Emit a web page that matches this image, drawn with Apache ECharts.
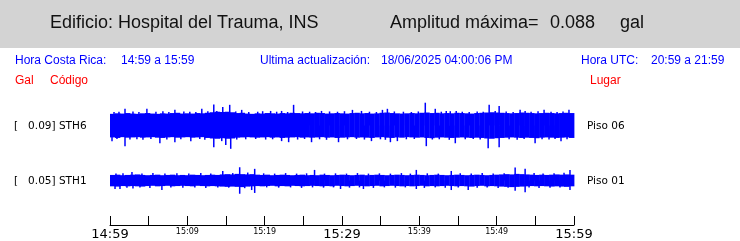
<!DOCTYPE html>
<html><head><meta charset="utf-8">
<script src="https://cdn.jsdelivr.net/npm/echarts@6/dist/echarts.min.js"></script>
<style>html,body{margin:0;padding:0;background:#fff}#c{width:740px;height:241px}</style>
</head><body><div id="c"></div>
<script>
// ---------- texts ----------
const buildingName = 'Edificio: Hospital del Trauma, INS';
const maxAmplitude = 0.088;
const ampUnit = 'gal';
const horaCR = '14:59 a 15:59';
const lastUpdate = '18/06/2025 04:00:06 PM';
const horaUTC = '20:59 a 21:59';
const channels = ['STH6', 'STH1'];
const channelMax = [0.09, 0.05];
const places = ['Piso 06', 'Piso 01'];
const tickLabels = ['14:59', '15:09', '15:19', '15:29', '15:39', '15:49', '15:59'];

// ---------- waveform envelopes (gal), one column per 60/93 min ----------
const sth6Hi = [0.044,0.046,0.045,0.047,0.045,0.044,0.046,0.047,0.045,0.044,
0.046,0.045,0.047,0.048,0.045,0.046,0.045,0.047,0.046,0.048,
0.050,0.052,0.051,0.052,0.050,0.047,0.048,0.045,0.044,0.046,
0.045,0.047,0.046,0.045,0.047,0.046,0.048,0.047,0.046,0.047,
0.046,0.048,0.047,0.045,0.046,0.047,0.046,0.045,0.047,0.048,
0.046,0.047,0.045,0.046,0.048,0.049,0.047,0.046,0.045,0.046,
0.047,0.046,0.048,0.049,0.047,0.048,0.046,0.047,0.046,0.048,
0.047,0.046,0.045,0.047,0.048,0.049,0.050,0.049,0.048,0.047,
0.046,0.047,0.049,0.048,0.047,0.046,0.047,0.048,0.047,0.046,
0.047,0.048,0.047];
const sth6Lo = [-0.045,-0.047,-0.044,-0.046,-0.045,-0.044,-0.046,-0.045,-0.044,-0.046,
-0.047,-0.045,-0.044,-0.046,-0.045,-0.044,-0.046,-0.045,-0.044,-0.047,
-0.049,-0.050,-0.048,-0.050,-0.049,-0.046,-0.045,-0.044,-0.045,-0.046,
-0.045,-0.044,-0.046,-0.045,-0.047,-0.046,-0.045,-0.044,-0.046,-0.045,
-0.046,-0.045,-0.044,-0.046,-0.045,-0.047,-0.046,-0.045,-0.044,-0.046,
-0.045,-0.046,-0.047,-0.045,-0.044,-0.046,-0.047,-0.045,-0.046,-0.044,
-0.045,-0.046,-0.045,-0.047,-0.048,-0.046,-0.045,-0.046,-0.047,-0.046,
-0.045,-0.046,-0.047,-0.046,-0.047,-0.049,-0.050,-0.048,-0.047,-0.046,
-0.045,-0.046,-0.047,-0.046,-0.047,-0.048,-0.046,-0.045,-0.046,-0.047,
-0.046,-0.045,-0.047];
const sth1Hi = [0.021,0.022,0.020,0.021,0.022,0.023,0.021,0.020,0.021,0.022,
0.020,0.021,0.022,0.020,0.021,0.020,0.022,0.021,0.020,0.021,
0.022,0.021,0.023,0.024,0.023,0.025,0.024,0.023,0.024,0.022,
0.021,0.022,0.020,0.021,0.022,0.021,0.020,0.021,0.022,0.020,
0.021,0.020,0.022,0.021,0.020,0.021,0.022,0.021,0.020,0.021,
0.022,0.020,0.021,0.022,0.021,0.020,0.021,0.022,0.021,0.020,
0.021,0.022,0.021,0.020,0.021,0.022,0.021,0.020,0.021,0.022,
0.021,0.020,0.021,0.022,0.021,0.020,0.021,0.022,0.023,0.024,
0.023,0.025,0.024,0.023,0.022,0.021,0.022,0.021,0.022,0.023,
0.022,0.023,0.022];
const sth1Lo = [-0.022,-0.023,-0.021,-0.022,-0.021,-0.022,-0.023,-0.021,-0.020,-0.022,
-0.021,-0.020,-0.022,-0.021,-0.020,-0.021,-0.022,-0.020,-0.021,-0.022,
-0.021,-0.022,-0.023,-0.024,-0.023,-0.024,-0.025,-0.023,-0.022,-0.021,
-0.022,-0.021,-0.020,-0.022,-0.021,-0.022,-0.020,-0.021,-0.022,-0.021,
-0.020,-0.021,-0.022,-0.021,-0.022,-0.020,-0.021,-0.022,-0.021,-0.020,
-0.021,-0.022,-0.021,-0.020,-0.022,-0.021,-0.020,-0.021,-0.022,-0.021,
-0.022,-0.021,-0.020,-0.022,-0.021,-0.022,-0.021,-0.020,-0.021,-0.022,
-0.021,-0.022,-0.023,-0.021,-0.020,-0.022,-0.021,-0.022,-0.023,-0.024,
-0.025,-0.024,-0.023,-0.022,-0.021,-0.022,-0.021,-0.022,-0.023,-0.022,
-0.023,-0.024,-0.022];

// ---------- peaks [minute, gal] ----------
const sth6Peaks = [[1.94,0.063],[4.77,0.063],[8.39,0.059],[11.87,0.063],[13.42,0.079],[13.81,0.055],
[14.58,0.070],[15.48,0.078],[17.03,0.059],[20.77,0.055],[22.19,0.055],[23.74,0.078],[27.35,0.055],
[31.35,0.059],[32.52,0.055],[35.23,0.059],[35.87,0.063],[40.77,0.086],[42.06,0.063],[43.48,0.055],
[44.77,0.055],[49.03,0.078],[49.81,0.055],[50.32,0.074],[53.03,0.059],[53.68,0.055],[56.13,0.059],[59.35,0.059],
[0.52,0.051],[1.16,0.052],[2.97,0.053],[3.74,0.051],[5.94,0.052],[6.84,0.054],[7.61,0.051],[9.55,0.053],
[10.32,0.052],[11.10,0.051],[12.65,0.054],[16.26,0.053],[17.94,0.051],[19.10,0.052],[19.74,0.054],
[21.55,0.052],[22.97,0.051],[24.90,0.053],[25.81,0.052],[26.58,0.051],[28.39,0.053],[29.42,0.052],
[30.32,0.054],[33.55,0.052],[34.45,0.051],[36.77,0.053],[37.94,0.052],[38.97,0.051],[39.87,0.053],
[42.84,0.052],[44.00,0.054],[45.55,0.052],[46.45,0.051],[47.48,0.053],[48.26,0.052],[51.23,0.053],
[52.13,0.051],[54.45,0.052],[55.35,0.054],[57.03,0.052],[57.81,0.051],[58.58,0.053],
[0.26,-0.059],[1.94,-0.078],[6.45,-0.067],[8.39,-0.063],[10.45,-0.059],[13.42,-0.082],[14.45,-0.059],
[14.97,-0.074],[15.61,-0.088],[22.19,-0.059],[23.10,-0.063],[26.06,-0.063],[29.55,-0.063],[33.81,-0.059],
[36.26,-0.063],[37.16,-0.059],[40.90,-0.078],[44.65,-0.067],[48.90,-0.086],[50.32,-0.082],[54.97,-0.067],[58.32,-0.059],
[0.90,-0.051],[2.58,-0.053],[3.48,-0.052],[4.26,-0.054],[5.29,-0.051],[7.35,-0.053],[9.16,-0.052],
[11.61,-0.051],[12.26,-0.054],[16.39,-0.053],[17.55,-0.052],[18.84,-0.051],[20.13,-0.053],[21.03,-0.052],
[24.26,-0.053],[25.16,-0.051],[27.10,-0.052],[28.00,-0.054],[30.71,-0.052],[31.87,-0.051],[32.90,-0.053],
[34.97,-0.052],[35.61,-0.054],[38.32,-0.052],[39.35,-0.051],[41.68,-0.053],[42.58,-0.052],[43.87,-0.054],
[45.94,-0.052],[46.97,-0.051],[47.87,-0.053],[51.61,-0.052],[52.65,-0.054],[53.55,-0.051],[55.87,-0.052],
[56.77,-0.053],[57.55,-0.051],[59.10,-0.052]];
const sth1Peaks = [[2.84,0.032],[14.58,0.036],[16.77,0.050],[18.71,0.044],[26.45,0.040],[39.61,0.040],
[44.13,0.036],[52.39,0.049],[53.68,0.044],[59.48,0.040],
[0.77,0.026],[1.68,0.027],[4.13,0.026],[5.55,0.028],[7.10,0.026],[8.65,0.027],[10.19,0.026],[11.74,0.028],
[13.03,0.026],[15.87,0.028],[17.81,0.030],[19.87,0.027],[21.29,0.026],[22.71,0.028],[24.13,0.026],
[25.42,0.027],[27.74,0.026],[29.16,0.027],[30.58,0.026],[32.00,0.028],[33.42,0.026],[34.84,0.027],
[36.26,0.026],[37.68,0.028],[38.84,0.026],[41.03,0.027],[42.45,0.026],[45.29,0.027],[46.71,0.026],
[48.13,0.028],[49.55,0.026],[50.97,0.027],[54.84,0.028],[56.00,0.026],[57.42,0.027],[58.71,0.029],
[0.65,-0.032],[1.29,-0.032],[2.97,-0.030],[6.71,-0.036],[16.77,-0.050],[18.32,-0.036],[18.71,-0.047],
[29.81,-0.032],[32.77,-0.032],[39.61,-0.032],[44.13,-0.036],[46.32,-0.036],[52.39,-0.039],[53.68,-0.044],[59.48,-0.036],
[2.19,-0.027],[3.87,-0.026],[5.16,-0.028],[7.87,-0.026],[9.42,-0.027],[10.97,-0.026],[12.39,-0.028],
[13.94,-0.026],[15.35,-0.027],[17.42,-0.029],[20.26,-0.026],[21.81,-0.027],[23.35,-0.026],[24.77,-0.028],
[26.19,-0.026],[27.61,-0.027],[28.90,-0.026],[30.97,-0.027],[32.26,-0.026],[34.06,-0.028],[35.48,-0.026],
[36.90,-0.027],[38.19,-0.026],[40.65,-0.028],[42.06,-0.026],[43.35,-0.027],[45.03,-0.026],[47.48,-0.027],
[48.77,-0.026],[50.19,-0.028],[51.48,-0.027],[54.19,-0.026],[55.48,-0.028],[56.90,-0.027],[58.19,-0.026]];

// ---------- drawing ----------
const BLUE = '#0000ff';
const STEP = 60 / sth6Hi.length;
const toCols = (hi, lo) => hi.map((h, i) => [i * STEP, h, lo[i]]);

function bodyItem(params, api) {
  const t = api.value(0), hi = api.value(1), lo = api.value(2);
  const a = api.coord([t, hi]), b = api.coord([t + STEP, lo]);
  return { type: 'rect', shape: { x: a[0], y: a[1], width: b[0] - a[0] + 0.4, height: b[1] - a[1] },
    style: { fill: BLUE } };
}
function peakItem(params, api) {
  const t = api.value(0), v = api.value(1);
  const a = api.coord([t, 0]), b = api.coord([t, v]);
  return { type: 'rect', shape: { x: a[0] - 0.75, y: Math.min(a[1], b[1]), width: 1.5, height: Math.abs(b[1] - a[1]) },
    style: { fill: BLUE } };
}

const L = 110, R = 166;
const chart = echarts.init(document.getElementById('c'), null, { renderer: 'canvas' });
const hidX = i => ({ gridIndex: i, type: 'value', min: 0, max: 60, show: false });
const hidY = i => ({ gridIndex: i, type: 'value', min: -0.1, max: 0.1, show: false });

const txt = (x, y, text, color, size, family, extra) => Object.assign({
  type: 'text', x: x, y: y, silent: true,
  style: { text: text, fill: color, fontSize: size, fontFamily: family, verticalAlign: 'middle', align: 'left' }
}, extra || {});

const fmtAmp = v => v.toFixed(2);

chart.setOption({
  animation: false,
  grid: [
    { left: L, right: R, top: 99, height: 53 },
    { left: L, right: R, top: 154, height: 53 },
    { left: L, right: R, top: 200, height: 27 }
  ],
  xAxis: [hidX(0), hidX(1), {
    gridIndex: 2, type: 'value', min: 0, max: 60, interval: 5,
    axisLine: { show: true, onZero: false, lineStyle: { color: '#000', width: 1 } },
    axisTick: { show: true, inside: true, length: 9, lineStyle: { color: '#000', width: 1 } },
    splitLine: { show: false },
    axisLabel: {
      show: true, margin: 3, showMinLabel: true, showMaxLabel: true, hideOverlap: false,
      formatter: v => {
        if (v % 10 !== 0) return '';
        const lbl = tickLabels[v / 10];
        return v % 30 === 0 ? '{b|' + lbl + '}' : '{s|' + lbl + '}';
      },
      rich: {
        b: { fontSize: 13, fontFamily: 'DejaVu Sans', color: '#000' },
        s: { fontSize: 8, fontFamily: 'DejaVu Sans', color: '#000' }
      }
    }
  }],
  yAxis: [hidY(0), hidY(1), { gridIndex: 2, type: 'value', min: 0, max: 1, show: false }],
  series: [
    { type: 'custom', xAxisIndex: 0, yAxisIndex: 0, renderItem: bodyItem, encode: { x: 0, y: [1, 2] }, data: toCols(sth6Hi, sth6Lo), clip: false },
    { type: 'custom', xAxisIndex: 0, yAxisIndex: 0, renderItem: peakItem, encode: { x: 0, y: 1 }, data: sth6Peaks, clip: false },
    { type: 'custom', xAxisIndex: 1, yAxisIndex: 1, renderItem: bodyItem, encode: { x: 0, y: [1, 2] }, data: toCols(sth1Hi, sth1Lo), clip: false },
    { type: 'custom', xAxisIndex: 1, yAxisIndex: 1, renderItem: peakItem, encode: { x: 0, y: 1 }, data: sth1Peaks, clip: false },
    { type: 'line', xAxisIndex: 2, yAxisIndex: 2, data: [] }
  ],
  graphic: [
    { type: 'rect', shape: { x: 0, y: 0, width: 740, height: 48 }, style: { fill: '#d3d3d3' }, z: -10, silent: true },
    txt(50, 23, buildingName, '#111', 18, 'Liberation Sans'),
    txt(390, 23, 'Amplitud máxima=', '#111', 18, 'Liberation Sans'),
    txt(550, 23, maxAmplitude.toFixed(3), '#111', 18, 'Liberation Sans'),
    txt(620, 23, ampUnit, '#111', 18, 'Liberation Sans'),
    txt(15, 61, 'Hora Costa Rica:', BLUE, 12, 'Liberation Sans'),
    txt(121, 61, horaCR, BLUE, 12, 'Liberation Sans'),
    txt(260, 61, 'Ultima actualización:', BLUE, 12, 'Liberation Sans'),
    txt(381, 61, lastUpdate, BLUE, 12, 'Liberation Sans'),
    txt(581, 61, 'Hora UTC:', BLUE, 12, 'Liberation Sans'),
    txt(651, 61, horaUTC, BLUE, 12, 'Liberation Sans'),
    txt(15, 81, 'Gal', '#ff0000', 12, 'Liberation Sans'),
    txt(50, 81, 'Código', '#ff0000', 12, 'Liberation Sans'),
    txt(590, 81, 'Lugar', '#ff0000', 12, 'Liberation Sans'),
    txt(14, 126, '[   ' + fmtAmp(channelMax[0]) + '] ' + channels[0], '#000', 10.5, 'DejaVu Sans'),
    txt(14, 181, '[   ' + fmtAmp(channelMax[1]) + '] ' + channels[1], '#000', 10.5, 'DejaVu Sans'),
    txt(587, 126, places[0], '#000', 10.5, 'DejaVu Sans'),
    txt(587, 181, places[1], '#000', 10.5, 'DejaVu Sans')
  ]
});
</script></body></html>
